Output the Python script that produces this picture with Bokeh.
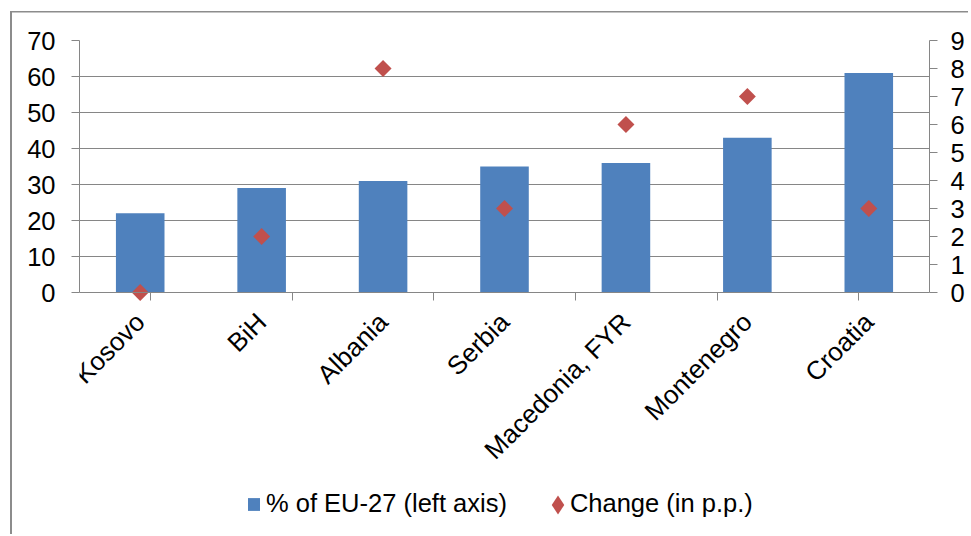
import math
from bokeh.plotting import figure
from bokeh.models import (ColumnDataSource, FactorRange, Range1d, LinearAxis, CategoricalAxis,
                          FixedTicker, Legend, LegendItem, CDSView, IndexFilter)
from bokeh.embed import file_html
from bokeh.resources import INLINE

# ---- data ----
countries = ["Kosovo", "BiH", "Albania", "Serbia", "Macedonia, FYR", "Montenegro", "Croatia"]
pct_eu27 = [22, 29, 31, 35, 36, 43, 61]
change_pp = [0, 2, 8, 3, 6, 7, 3]
left_ticks = [0, 10, 20, 30, 40, 50, 60, 70]
right_ticks = [0, 1, 2, 3, 4, 5, 6, 7, 8, 9]
bar_label = "% of EU-27 (left axis)"
dot_label = "Change (in p.p.)"

FONT = "Liberation Sans"
FS = "25.5px"
FSX = "26px"
GRAY = "#868686"
BLUE = "#4F81BD"
RED = "#C0504D"

# ---- layout (pixels) ----
W, H = 968, 534
LEFT, TOP, RIGHT, ZERO_Y = 79, 40, 929, 292   # frame edges and the y=0 line
BOTTOM = H                                     # frame extends to bottom so legends are inside it

src = ColumnDataSource(dict(country=countries, pct=pct_eu27, chg=change_pp))

# the value axes only span 0..max; below 0 is room for category labels and legend
frac_below = (BOTTOM - ZERO_Y) / (ZERO_Y - TOP)
y_lo = -left_ticks[-1] * frac_below
r_lo = -right_ticks[-1] * frac_below

boundaries = [" " * (i + 1) for i in range(len(countries) + 1)]

p = figure(width=W, height=H, title=None,
           x_range=FactorRange(factors=countries, range_padding=0),
           y_range=Range1d(y_lo, left_ticks[-1]),
           output_backend="svg", toolbar_location=None,
           min_border_left=LEFT, min_border_right=W - RIGHT,
           min_border_top=TOP, min_border_bottom=H - BOTTOM)
p.extra_y_ranges = {"right": Range1d(r_lo, right_ticks[-1])}
p.extra_x_ranges = {"edges": FactorRange(factors=boundaries, range_padding=-1,
                                         range_padding_units="absolute")}

p.outline_line_color = None
p.border_fill_color = None
p.background_fill_color = None
p.styles = {"box-shadow": "inset 10px 11px 0 0 #ffffff, inset 12px 12.5px 0 0 #8c8c8c",
            "background-color": "white"}

p.xgrid.visible = False
p.ygrid.grid_line_color = GRAY
p.ygrid.grid_line_width = 1

# left axis
ya = p.yaxis[0]
ya.ticker = FixedTicker(ticks=left_ticks)
ya.bounds = (left_ticks[0], left_ticks[-1])
ya.axis_line_color = GRAY
ya.major_tick_line_color = GRAY
ya.major_tick_out = 8
ya.major_tick_in = 0
ya.minor_tick_line_color = None
ya.major_label_text_font = FONT
ya.major_label_text_font_size = FS
ya.major_label_text_color = "black"
ya.major_label_standoff = 16

# right axis
ra = LinearAxis(y_range_name="right", ticker=FixedTicker(ticks=right_ticks),
                bounds=(right_ticks[0], right_ticks[-1]))
ra.axis_line_color = GRAY
ra.major_tick_line_color = GRAY
ra.major_tick_out = 8
ra.major_tick_in = 0
ra.minor_tick_line_color = None
ra.major_label_text_font = FONT
ra.major_label_text_font_size = FS
ra.major_label_text_color = "black"
ra.major_label_standoff = 13
p.add_layout(ra, "right")

# category axis, drawn on the zero line
xa = p.xaxis[0]
xa.fixed_location = 0
xa.axis_line_color = GRAY
xa.major_tick_line_color = None
xa.major_label_orientation = math.pi / 4
xa.major_label_text_font = FONT
xa.major_label_text_font_size = FSX
xa.major_label_text_color = "black"
xa.major_label_standoff = 19

# boundary ticks between categories
ta = CategoricalAxis(x_range_name="edges", fixed_location=0)
ta.axis_line_color = None
ta.major_tick_line_color = GRAY
ta.major_tick_out = 8
ta.major_tick_in = 0
ta.minor_tick_line_color = None
ta.major_label_text_color = None
ta.major_label_text_font_size = "0px"
p.add_layout(ta, "below")

bars = p.vbar(x="country", top="pct", width=0.4, source=src,
              fill_color=BLUE, line_color=None)
# legend key for the change series (a small diamond hidden under each rotated square)
dots_key = p.scatter(x="country", y="chg", source=src, y_range_name="right",
                     marker="diamond", size=12, fill_color=RED, line_color=None)
dots = p.scatter(x="country", y="chg", source=src, y_range_name="right",
                 marker="square", angle=math.pi / 4, size=12,
                 fill_color=RED, line_color=None)
blank = p.scatter(x="country", y="chg", source=src, y_range_name="right",
                  marker="diamond", size=1, fill_color=RED, line_color=None,
                  view=CDSView(filter=IndexFilter(indices=[])))

common = dict(orientation="horizontal", padding=0, margin=0, border_line_color=None,
              background_fill_alpha=0, label_text_font=FONT,
              label_text_font_size=FS, label_text_color="black")

legend_text = Legend(items=[LegendItem(label=bar_label, renderers=[bars]),
                            LegendItem(label=dot_label, renderers=[blank])],
                     location=(167, 16), glyph_width=15, glyph_height=16,
                     label_standoff=5, spacing=43, **common)
legend_key = Legend(items=[LegendItem(label=" ", renderers=[dots_key])],
                    location=(455, 6.5), glyph_width=47, glyph_height=47,
                    label_standoff=0, spacing=0, **common)
p.add_layout(legend_text)
p.add_layout(legend_key)

open("out.html", "w").write(file_html(p, INLINE))
